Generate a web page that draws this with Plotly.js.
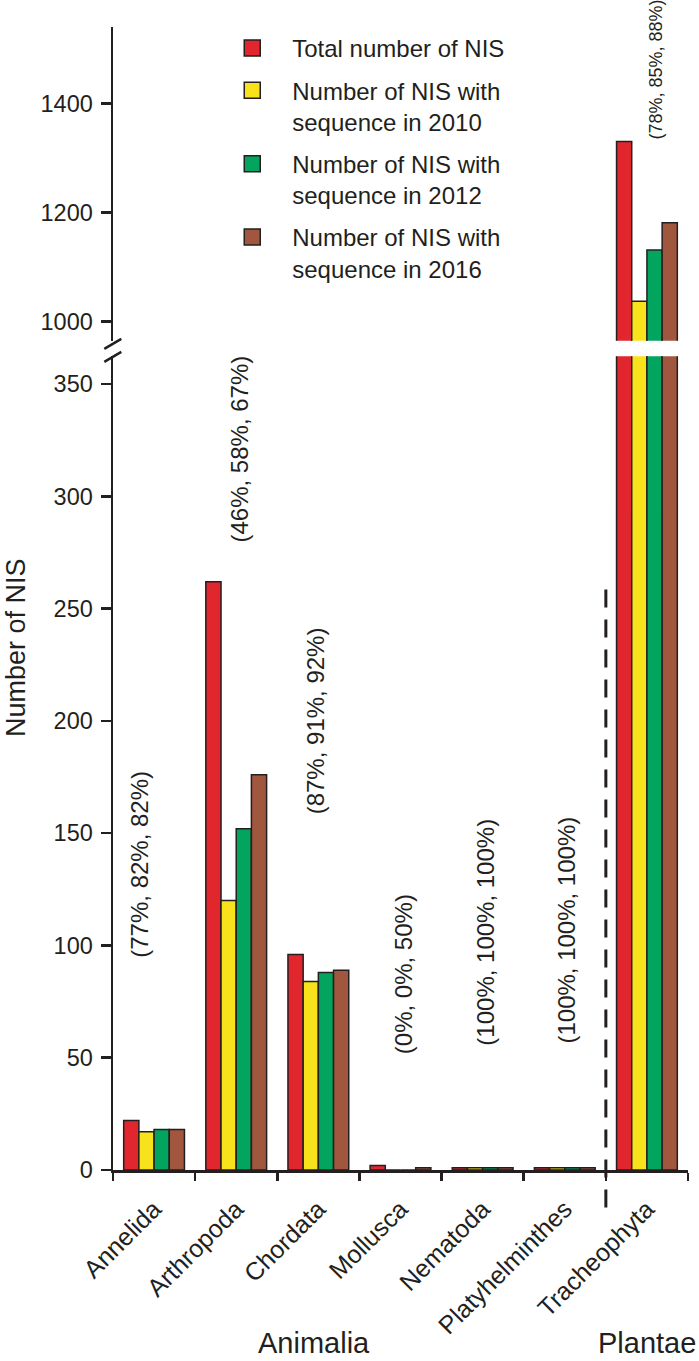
<!DOCTYPE html>
<html>
<head>
<meta charset="utf-8">
<script src="https://cdn.plot.ly/plotly-3.0.1.min.js"></script>
<style>
  html, body { margin: 0; padding: 0; background: #fff; }
  #chart { width: 699px; height: 1361px; }
</style>
</head>
<body>
<div id="chart"></div>
<script>
// Number of NIS per phylum, with the number that had a sequence
// available in 2010, 2012 and 2016

const categories = ['Annelida', 'Arthropoda', 'Chordata', 'Mollusca',
                    'Nematoda', 'Platyhelminthes', 'Tracheophyta'];
const totalNIS = [22, 262, 96, 2, 1, 1, 1330];
const seq2010  = [17, 120, 84, 0, 1, 1, 1037];
const seq2012  = [18, 152, 88, 0, 1, 1, 1131];
const seq2016  = [18, 176, 89, 1, 1, 1, 1181];

const pctLabels = ['(77%, 82%, 82%)', '(46%, 58%, 67%)', '(87%, 91%, 92%)',
                   '(0%, 0%, 50%)', '(100%, 100%, 100%)',
                   '(100%, 100%, 100%)', '(78%, 85%, 88%)'];

const kingdoms = ['Animalia', 'Plantae'];

const lowerTicks = [0, 50, 100, 150, 200, 250, 300, 350];
const upperTicks = [1000, 1200, 1400];

const seriesNames = ['Total number of NIS',
                     'Number of NIS with<br>sequence in 2010',
                     'Number of NIS with<br>sequence in 2012',
                     'Number of NIS with<br>sequence in 2016'];
const seriesValues = [totalNIS, seq2010, seq2012, seq2016];
const seriesColors = ['#e1272d', '#f8e21c', '#03a45e', '#a1563e'];

const ink = '#231f20';
const font = 'Arial, "Liberation Sans", sans-serif';

// pixel -> paper helpers (plot area is 112.7..688 x 27..1170.5)
const L = 112.7, R = 688, T = 27, B = 1170.5;
const px = function (x) { return (x - L) / (R - L); };
const py = function (y) { return (B - y) / (B - T); };

// both subplots get every series so the groups line up
const data = [];
seriesValues.forEach(function (vals, i) {
    ['y', 'y2'].forEach(function (ax) {
        data.push({
            type: 'bar', x: categories, y: vals, name: seriesNames[i],
            yaxis: ax, xaxis: 'x', showlegend: false,
            marker: {color: seriesColors[i], line: {color: ink, width: 1.5}},
            hoverinfo: 'x+y'
        });
    });
});

// legend-only entries, so the key squares can be bigger than bar swatches
seriesNames.forEach(function (name, i) {
    data.push({
        type: 'scatter', mode: 'markers', x: [null], y: [null],
        name: name, legendgroup: 'g' + i, showlegend: true,
        marker: {symbol: 'square', size: 17, color: seriesColors[i],
                 line: {color: ink, width: 1.5}}
    });
});

// label placement (value on the axis the label sits on, x offset in px)
const labelY = [136, 321, 200, 87, 106, 107, 1462];
const labelDx = [-14, 3, -2, 3, 2, 2, 9];
const labelSize = [24, 24, 24, 24, 24, 24, 18];

const annotations = pctLabels.map(function (txt, i) {
    return {text: txt, x: categories[i], y: labelY[i],
            xref: 'x', yref: i === 6 ? 'y2' : 'y',
            xanchor: 'center', yanchor: 'middle',
            xshift: labelDx[i], textangle: -90, showarrow: false,
            font: {family: font, size: labelSize[i], color: ink}};
});

const paperLabel = function (txt, x, y, size, angle) {
    return {text: txt, xref: 'paper', yref: 'paper', x: px(x), y: py(y),
            xanchor: 'center', yanchor: 'middle', textangle: angle,
            showarrow: false, font: {family: font, size: size, color: ink}};
};

annotations.push(paperLabel('Number of NIS', 15, 648, 27, -90));
annotations.push(paperLabel(kingdoms[0], 314, 1344, 29, 0));
annotations.push(paperLabel(kingdoms[1], 647, 1344, 29, 0));

const shapes = [
    // Animalia / Plantae divider
    {type: 'line', xref: 'x', yref: 'paper', x0: 5.5, x1: 5.5,
     y0: py(1208), y1: py(588),
     line: {color: ink, width: 3, dash: '18px,12px'}},
    // axis break marks
    {type: 'line', xref: 'paper', yref: 'paper',
     x0: px(104), y0: py(349), x1: px(121), y1: py(339),
     line: {color: ink, width: 2.5}},
    {type: 'line', xref: 'paper', yref: 'paper',
     x0: px(104), y0: py(362), x1: px(121), y1: py(352),
     line: {color: ink, width: 2.5}}
];

const yCommon = {
    showgrid: false, zeroline: false, showline: true,
    linecolor: ink, linewidth: 2.5,
    ticks: 'outside', ticklen: 10, tickwidth: 2.5, tickcolor: ink,
    tickfont: {family: font, size: 23.5, color: ink},
    ticklabelstandoff: 3, anchor: 'x', fixedrange: true
};

const layout = {
    width: 699, height: 1361,
    margin: {l: L, r: 699 - R, t: T, b: 1361 - B, pad: 0},
    paper_bgcolor: '#fff', plot_bgcolor: '#fff',
    barmode: 'group', bargap: 0.26, bargroupgap: 0,
    showlegend: true,
    legend: {x: px(212), y: py(26), xanchor: 'left', yanchor: 'top',
             bgcolor: 'rgba(0,0,0,0)', valign: 'top', itemwidth: 70,
             tracegroupgap: 8, traceorder: 'grouped',
             font: {family: font, size: 24, color: ink}},
    xaxis: {type: 'category', showgrid: false, zeroline: false,
            showline: true, linecolor: ink, linewidth: 2.5,
            ticks: 'outside', tickson: 'boundaries', ticklen: 8,
            tickwidth: 2.5, tickcolor: ink, tickangle: -45,
            tickfont: {family: font, size: 25, color: ink},
            ticklabelstandoff: 12,
            range: [-0.5, 6.5], anchor: 'y', fixedrange: true},
    yaxis: Object.assign({}, yCommon, {
        domain: [0, py(356.5)], range: [0, 362.4],
        tickvals: lowerTicks}),
    yaxis2: Object.assign({}, yCommon, {
        domain: [py(341), 1], range: [964.6, 1540],
        tickvals: upperTicks}),
    annotations: annotations,
    shapes: shapes
};

Plotly.newPlot('chart', data, layout, {displayModeBar: false, staticPlot: true});
</script>
</body>
</html>
